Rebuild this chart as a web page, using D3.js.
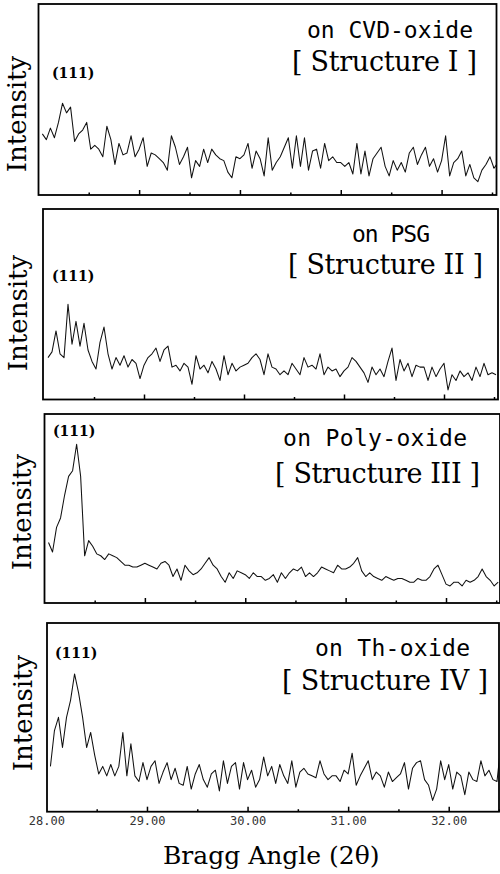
<!DOCTYPE html>
<html>
<head>
<meta charset="utf-8">
<script src="https://cdn.jsdelivr.net/npm/d3@7"></script>
<style>
  body { margin: 0; background: #fff; }
  svg { display: block; }
</style>
</head>
<body>
<script>
// 2-theta grid of the scans (deg), first point and step
var thetaStart = 28.04;
var thetaStep = 0.04;

/* ----------------- intensities (arb. units) ----------------- */
var cvdOxide = [32,29,35,30,38,48,43,46,28,32,
  34,38,24,26,24,20,36,29,16,27,
  21,22,31,20,24,30,15,22,21,19,
  17,13,31,25,16,20,25,9,18,15,
  24,17,24,21,19,18,12,9,20,19,
  21,27,14,23,19,10,30,13,17,20,
  25,30,14,31,15,30,13,23,24,14,
  27,18,20,17,17,15,17,11,27,11,
  23,10,19,22,25,15,10,18,13,17,
  12,22,25,16,21,25,15,19,12,18,
  31,10,17,19,23,10,16,9,7,13,
  16,20,14,17];

var psg = [22,25,36,24,22,50,29,41,28,40,
  26,20,16,30,38,24,16,22,18,23,
  17,21,19,11,18,22,24,27,20,26,
  28,17,18,15,19,17,8,23,16,18,
  14,20,16,10,23,13,19,15,17,18,
  19,22,24,21,13,24,17,16,13,15,
  13,19,16,13,22,17,18,16,24,13,
  17,15,16,12,15,17,22,20,17,14,
  9,17,13,16,12,20,27,10,21,15,
  19,12,18,17,17,10,17,12,16,19,
  5,13,10,15,12,14,10,17,12,19,
  13,14,13];

var polyOxide = [32,27,40,45,57,67,70,84,67,25,
  33,30,26,25,23,26,25,24,22,20,
  20,19,19,20,21,20,19,18,21,22,
  20,14,18,12,20,17,15,16,18,21,
  24,20,18,14,11,16,13,17,16,15,
  13,16,14,14,12,13,15,11,16,13,
  16,18,17,19,14,16,14,16,19,18,
  17,16,20,18,18,19,21,24,17,14,
  16,14,13,12,14,13,12,13,13,12,
  11,11,13,12,12,14,18,20,15,10,
  9,11,11,9,12,11,12,14,18,14,
  12,9,11];

var thOxide = [24,43,50,34,50,59,73,63,50,34,
  42,30,20,24,19,25,19,24,42,19,
  36,19,16,26,17,24,27,15,21,26,
  17,23,15,14,24,12,20,25,17,13,
  20,22,11,27,15,24,26,12,26,17,
  22,13,17,29,19,24,15,25,19,15,
  27,13,21,23,20,19,18,27,20,17,
  19,19,16,22,20,31,14,19,23,27,
  17,21,19,13,21,16,18,20,26,12,
  23,26,27,17,14,6,12,27,17,25,
  12,21,19,9,21,17,16,27,19,22,
  17,16,36];

var substrates = ["on CVD-oxide", "on PSG", "on Poly-oxide", "on Th-oxide"];
var structures = ["[ Structure I ]", "[ Structure II ]", "[ Structure III ]", "[ Structure IV ]"];
var peakLabel = "(111)";
var yLabel = "Intensity";
var xLabel = "Bragg Angle (2\u03b8)";
var majorTicks = [29, 30, 31, 32];
var minorTicks = [28.5, 29.5, 30.5, 31.5, 32.5];
var tickLabels = [28, 29, 30, 31, 32];

var series = [cvdOxide, psg, polyOxide, thOxide];

/* ----------------- layout (the scan is a bit skewed, so each frame has its own) ----------------- */
var width = 500;
var height = 874;
var panels = [
  {left: 38.5, right: 496.5, top: 4,   bottom: 195,   x28: 38.3, x325: 492,
   sub: {x: 307, y: 38,  w: 166}, str: {x: 292, y: 71,  w: 185}, peak: {x: 52, y: 78},  lab: {x: 26, y: 114}},
  {left: 43,   right: 498,   top: 209, bottom: 399.5, x28: 44,   x325: 494,
   sub: {x: 352, y: 242, w: 78},  str: {x: 288, y: 274, w: 195}, peak: {x: 52, y: 281}, lab: {x: 27, y: 313}},
  {left: 44.5, right: 500,   top: 414, bottom: 603,   x28: 44.5, x325: 496.2,
   sub: {x: 283, y: 446, w: 184}, str: {x: 275, y: 483, w: 205}, peak: {x: 53, y: 436}, lab: {x: 31, y: 512}},
  {left: 47,   right: 499,   top: 623, bottom: 811.7, x28: 46.4, x325: 499,
   sub: {x: 315, y: 656, w: 155}, str: {x: 282, y: 690, w: 206}, peak: {x: 55, y: 658}, lab: {x: 32, y: 713}}
];

var svg = d3.select('body').append('svg')
  .attr('xmlns', 'http://www.w3.org/2000/svg')
  .attr('width', width)
  .attr('height', height);

var lastX;

panels.forEach(function (p, k) {
  var xScale = d3.scaleLinear().domain([28, 32.5]).range([p.x28, p.x325]);
  var yScale = d3.scaleLinear().domain([0, 100]).range([p.bottom, p.top]);
  lastX = xScale;

  var g = svg.append('g').attr('class', 'panel');

  g.append('clipPath').attr('id', 'clip' + k)
    .append('rect')
    .attr('x', p.left).attr('y', p.top)
    .attr('width', p.right - p.left).attr('height', p.bottom - p.top);

  var line = d3.line()
    .x(function (d, j) { return xScale(thetaStart + j * thetaStep); })
    .y(function (d) { return yScale(d); });

  // scan trace
  g.append('path')
    .datum(series[k])
    .attr('clip-path', 'url(#clip' + k + ')')
    .attr('d', line)
    .attr('fill', 'none')
    .attr('stroke', '#111')
    .attr('stroke-width', 1.05)
    .attr('stroke-linejoin', 'round');

  // inward ticks on the bottom edge
  var major = g.append('g')
    .attr('transform', 'translate(0,' + p.bottom + ')')
    .call(d3.axisBottom(xScale).tickValues(majorTicks).tickSize(-5).tickFormat(''));
  var minor = g.append('g')
    .attr('transform', 'translate(0,' + p.bottom + ')')
    .call(d3.axisBottom(xScale).tickValues(minorTicks).tickSize(-2.5).tickFormat(''));
  [major, minor].forEach(function (a) {
    a.select('.domain').remove();
    a.selectAll('line').attr('stroke', '#000').attr('stroke-width', 1.5);
  });

  // frame
  g.append('rect')
    .attr('x', p.left).attr('y', p.top)
    .attr('width', p.right - p.left).attr('height', p.bottom - p.top)
    .attr('fill', 'none')
    .attr('stroke', '#000')
    .attr('stroke-width', 1.8);

  g.append('text')
    .attr('x', p.sub.x).attr('y', p.sub.y)
    .attr('textLength', p.sub.w).attr('lengthAdjust', 'spacing')
    .style('font-family', '"DejaVu Sans Mono", monospace')
    .style('font-size', '23px')
    .text(substrates[k]);

  g.append('text')
    .attr('x', p.str.x).attr('y', p.str.y)
    .attr('textLength', p.str.w).attr('lengthAdjust', 'spacing')
    .style('font-family', '"DejaVu Serif", serif')
    .style('font-size', '27px')
    .text(structures[k]);

  g.append('text')
    .attr('x', p.peak.x).attr('y', p.peak.y)
    .style('font-family', '"DejaVu Serif", serif')
    .style('font-weight', 'bold')
    .style('font-size', '14px')
    .text(peakLabel);

  g.append('text')
    .attr('transform', 'translate(' + p.lab.x + ',' + p.lab.y + ') rotate(-90)')
    .attr('text-anchor', 'middle')
    .style('font-family', '"DejaVu Serif", serif')
    .style('font-size', '26px')
    .text(yLabel);
});

/* ----------------- bottom axis labels ----------------- */
var labels = svg.append('g')
  .attr('transform', 'translate(0,' + panels[3].bottom + ')')
  .call(d3.axisBottom(lastX).tickValues(tickLabels).tickSize(0).tickPadding(5).tickFormat(d3.format('.2f')));
labels.select('.domain').remove();
labels.selectAll('text')
  .attr('fill', '#333')
  .style('font-family', '"DejaVu Sans Mono", monospace')
  .style('font-size', '12px');

svg.append('text')
  .attr('x', 163).attr('y', 864)
  .style('font-family', '"DejaVu Serif", serif')
  .style('font-size', '25px')
  .text(xLabel);
</script>
</body>
</html>
